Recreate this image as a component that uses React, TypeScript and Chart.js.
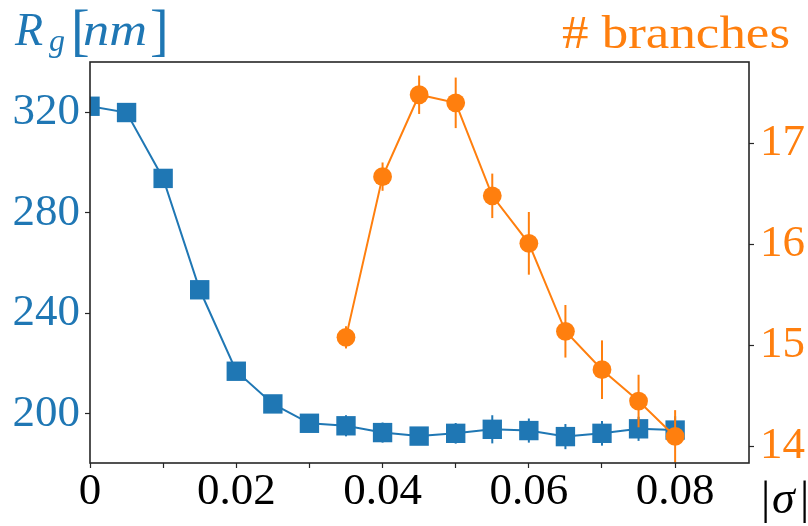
import React, { useEffect, useRef } from "react";
import { Chart, registerables } from "chart.js";

Chart.register(...registerables);

// ---------- data ----------
const SIGMA_RG = [0, 0.005, 0.01, 0.015, 0.02, 0.025, 0.03, 0.035, 0.04, 0.045, 0.05, 0.055, 0.06, 0.065, 0.07, 0.075, 0.08];
const RG = [322.4, 319.9, 293.7, 249.4, 217.0, 204.0, 196.3, 195.3, 192.6, 191.2, 192.3, 193.9, 193.4, 191.0, 192.3, 194.1, 193.6];
const RG_ERR = [0, 0, 0, 0, 0, 0, 2, 4.2, 4, 3, 4.1, 5.6, 4.8, 5, 4.9, 4.8, 5.5];

const SIGMA_BR = [0.035, 0.04, 0.045, 0.05, 0.055, 0.06, 0.065, 0.07, 0.075, 0.08];
const BRANCHES = [15.08, 16.67, 17.48, 17.4, 16.48, 16.01, 15.14, 14.76, 14.45, 14.1];
const BRANCHES_ERR = [0.11, 0.14, 0.19, 0.25, 0.22, 0.31, 0.26, 0.29, 0.26, 0.26];

const X_TICKS = [0, 0.01, 0.02, 0.03, 0.04, 0.05, 0.06, 0.07, 0.08];
const X_LABELS = ["0", "", "0.02", "", "0.04", "", "0.06", "", "0.08"];
const RG_TICKS = [200, 240, 280, 320];
const BR_TICKS = [14, 15, 16, 17];

const BLUE = "#1f77b4";
const ORANGE = "#ff7f0e";
const SPINE = "#262626";
const SERIF = '"Liberation Serif", "DejaVu Serif", serif';

const errorBarPlugin = {
  id: "errorBars",
  beforeDatasetDraw(chart: any, args: any) {
    const ds = chart.data.datasets[args.index];
    const errs: number[] | undefined = ds.errors;
    if (!errs) return;
    const xs = args.meta.xScale;
    const ys = args.meta.yScale;
    const a = chart.chartArea;
    const ctx = chart.ctx;
    ctx.save();
    ctx.beginPath();
    ctx.rect(a.left, a.top, a.right - a.left, a.bottom - a.top);
    ctx.clip();
    ctx.strokeStyle = ds.borderColor;
    ctx.lineWidth = 2;
    ds.data.forEach((p: any, i: number) => {
      const e = errs[i];
      if (!e) return;
      const px = xs.getPixelForValue(p.x);
      ctx.beginPath();
      ctx.moveTo(px, ys.getPixelForValue(p.y - e));
      ctx.lineTo(px, ys.getPixelForValue(p.y + e));
      ctx.stroke();
    });
    ctx.restore();
  },
};

const framePlugin = {
  id: "frame",
  afterDatasetsDraw(chart: any) {
    const a = chart.chartArea;
    const ctx = chart.ctx;
    ctx.save();
    ctx.strokeStyle = SPINE;
    ctx.lineWidth = 1.6;
    ctx.strokeRect(a.left, a.top, a.right - a.left, a.bottom - a.top);
    ctx.restore();
  },
};

const textPlugin = {
  id: "labels",
  afterDraw(chart: any) {
    const ctx = chart.ctx;
    ctx.save();
    ctx.textBaseline = "alphabetic";
    ctx.textAlign = "left";

    // R_g[nm]
    ctx.fillStyle = BLUE;
    ctx.font = `italic 46px ${SERIF}`;
    ctx.fillText("R", 15, 45);
    ctx.font = `italic 32px ${SERIF}`;
    ctx.fillText("g", 49, 51);
    ctx.font = `56px ${SERIF}`;
    ctx.fillText("[", 71, 49);
    ctx.font = `italic 46px ${SERIF}`;
    ctx.save();
    const nmW = ctx.measureText("nm").width;
    ctx.translate(83, 45);
    ctx.scale(64 / nmW, 1);
    ctx.fillText("nm", 0, 0);
    ctx.restore();
    ctx.font = `56px ${SERIF}`;
    ctx.fillText("]", 150, 49);

    // # branches
    ctx.fillStyle = ORANGE;
    ctx.font = `47px ${SERIF}`;
    const br = "# branches";
    const bw = ctx.measureText(br).width;
    ctx.save();
    ctx.translate(562, 48);
    ctx.scale(228 / bw, 1);
    ctx.fillText(br, 0, 0);
    ctx.restore();

    // |sigma|
    ctx.fillStyle = "#000";
    ctx.font = `46px ${SERIF}`;
    ctx.fillText("|", 761, 513);
    ctx.font = `italic 46px ${SERIF}`;
    ctx.fillText("σ", 772, 513);
    ctx.font = `46px ${SERIF}`;
    ctx.fillText("|", 800, 513);
    ctx.restore();
  },
};

export default function App() {
  const ref = useRef<HTMLCanvasElement | null>(null);

  useEffect(() => {
    if (!ref.current) return;
    const tickFont = { family: SERIF, size: 45, lineHeight: 1 };
    const grid = {
      display: true,
      drawOnChartArea: false,
      drawTicks: true,
      tickLength: 5,
      tickColor: SPINE,
      tickWidth: 1.2,
      color: SPINE,
    };
    const chart = new Chart(ref.current, {
      type: "line",
      data: {
        datasets: [
          {
            label: "Rg",
            data: SIGMA_RG.map((x, i) => ({ x, y: RG[i] })),
            errors: RG_ERR,
            yAxisID: "y",
            borderColor: BLUE,
            backgroundColor: BLUE,
            borderWidth: 2,
            pointStyle: "rect",
            pointRadius: 13.7,
            pointBorderWidth: 0,
            pointBackgroundColor: BLUE,
            tension: 0,
            clip: 0,
            order: 2,
          } as any,
          {
            label: "branches",
            data: SIGMA_BR.map((x, i) => ({ x, y: BRANCHES[i] })),
            errors: BRANCHES_ERR,
            yAxisID: "y2",
            borderColor: ORANGE,
            backgroundColor: ORANGE,
            borderWidth: 2,
            pointStyle: "circle",
            pointRadius: 9.4,
            pointBorderWidth: 0,
            pointBackgroundColor: ORANGE,
            tension: 0,
            clip: 0,
            order: 1,
          } as any,
        ],
      },
      options: {
        animation: false,
        responsive: false,
        devicePixelRatio: 1,
        layout: { padding: { top: 62, left: 0, right: 0, bottom: 0 } },
        plugins: {
          legend: { display: false },
          tooltip: { enabled: false },
          title: { display: false },
        },
        scales: {
          x: {
            type: "linear",
            min: 0,
            max: 0.0901,
            afterBuildTicks: (s: any) => {
              s.ticks = X_TICKS.map((v) => ({ value: v }));
            },
            afterFit: (s: any) => {
              s.height = 63;
            },
            grid: grid as any,
            border: { display: false },
            ticks: {
              color: "#000",
              font: tickFont,
              padding: 2,
              maxRotation: 0,
              autoSkip: false,
              callback: (_v: any, i: number) => X_LABELS[i] ?? "",
            },
          },
          y: {
            type: "linear",
            position: "left",
            min: 180.5,
            max: 340,
            afterBuildTicks: (s: any) => {
              s.ticks = RG_TICKS.map((v) => ({ value: v }));
            },
            afterFit: (s: any) => {
              s.width = 90;
            },
            grid: grid as any,
            border: { display: false },
            ticks: {
              color: BLUE,
              font: tickFont,
              padding: 5,
              callback: (v: any) => String(v),
            },
          },
          y2: {
            type: "linear",
            position: "right",
            min: 13.837,
            max: 17.804,
            afterBuildTicks: (s: any) => {
              s.ticks = BR_TICKS.map((v) => ({ value: v }));
            },
            afterFit: (s: any) => {
              s.width = 59;
            },
            grid: grid as any,
            border: { display: false },
            ticks: {
              color: ORANGE,
              font: tickFont,
              padding: 6,
              callback: (v: any) => String(v),
            },
          },
        },
      },
      plugins: [errorBarPlugin, framePlugin, textPlugin],
    });
    return () => chart.destroy();
  }, []);

  return (
    <div style={{ position: "fixed", left: 0, top: 0, width: 808, height: 526, background: "#fff" }}>
      <canvas ref={ref} width={808} height={526} style={{ display: "block", width: 808, height: 526 }} />
    </div>
  );
}
